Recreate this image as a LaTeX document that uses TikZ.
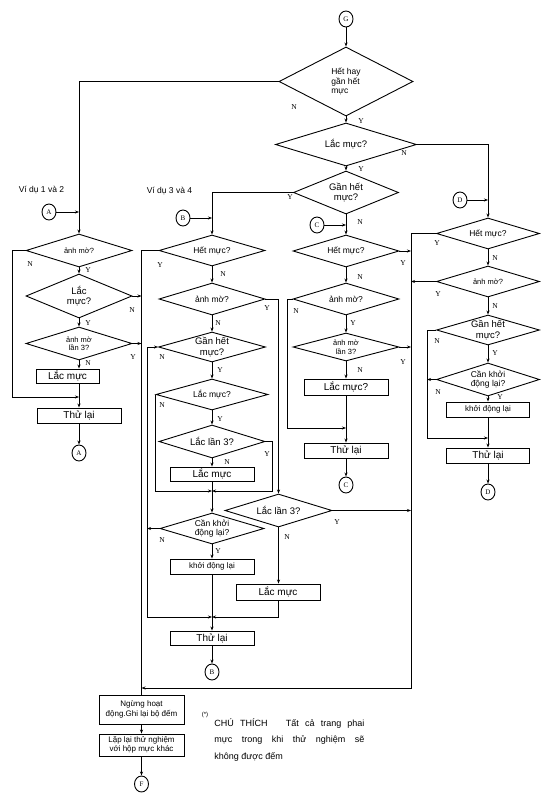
\documentclass[tikz,border=0pt]{standalone}
\usepackage{fontspec}
\setmainfont{Liberation Sans}
\newfontfamily\serifrm{Liberation Serif}
\usetikzlibrary{shapes.geometric,arrows.meta}

\tikzset{
  dec/.style={diamond, draw, inner sep=0pt, minimum width=106pt},
  act/.style={rectangle, draw, inner sep=0pt, minimum width=84pt, minimum height=15pt, font=\fontsize{10}{12}\selectfont},
  con/.style={ellipse, draw, inner sep=0pt, minimum width=14pt, minimum height=16pt, font=\serifrm\fontsize{7}{8}\selectfont},
  yn/.style={inner sep=0pt, font=\serifrm\fontsize{7.5}{8}\selectfont},
  xs/.style={align=center, font=\fontsize{7.5}{8.5}\selectfont},
  sm/.style={align=center, font=\fontsize{8.5}{9.5}\selectfont},
  lg/.style={align=center, font=\fontsize{9.5}{10.5}\selectfont},
  arr/.style={-{Stealth[length=4pt,width=3pt]}},
}

\begin{document}
\begin{tikzpicture}[x=1pt, y=-1pt, line width=0.9pt]
  \useasboundingbox (0,0) rectangle (554,797);

  \node[con] (G) at (346,19) {G};
  \node[dec, minimum width=134pt, minimum height=69pt, label={[sm, align=left]center:{Hết hay\\gần hết\\mực}}] (q1) at (346,81.5) {};
  \node[dec, minimum width=141pt, minimum height=43pt, label={[lg]center:Lắc mực?}] (q2) at (346,144.5) {};
  \node[dec, minimum width=105pt, minimum height=43pt, label={[lg]center:{Gần hết\\mực?}}] (q3) at (346,192.5) {};

  \node[anchor=west, font=\fontsize{8.5}{10}\selectfont] (ex1) at (15,190) {Ví dụ 1 và 2};
  \node[con] (A1) at (49,212) {A};
  \node[dec, minimum height=33pt, label={[xs]center:ảnh mờ?}] (a1) at (79,250.5) {};
  \node[dec, minimum height=44pt, label={[lg]center:{Lắc\\mực?}}] (a2) at (79,296) {};
  \node[dec, minimum height=33pt, label={[xs]center:{ảnh mờ\\lần 3?}}] (a3) at (79,343.5) {};
  \node[act, minimum width=63pt, minimum height=14pt] (a4) at (67.5,376) {Lắc mực};
  \node[act] (a5) at (79,415.5) {Thử lại};
  \node[con] (A2) at (79,453) {A};

  \node[anchor=west, font=\fontsize{8.5}{10}\selectfont] (ex2) at (143,191) {Ví dụ 3 và 4};
  \node[con] (B1) at (183,218) {B};
  \node[dec, minimum height=31pt, label={[sm]center:Hết mực?}] (b1) at (212,250.5) {};
  \node[dec, minimum height=32pt, label={[sm]center:ảnh mờ?}] (b2) at (212,299) {};
  \node[dec, minimum width=107pt, minimum height=30pt, label={[lg]center:{Gần hết\\mực?}}] (b3) at (212,347) {};
  \node[dec, minimum width=112pt, minimum height=31pt, label={[sm]center:Lắc mực?}] (b4) at (212,394.5) {};
  \node[dec, minimum height=33pt, label={[lg]center:Lắc lần 3?}] (b5) at (212,441.5) {};
  \node[act, minimum height=14pt] (b6) at (212,474) {Lắc mực};
  \coordinate (m1) at (212,491);
  \node[dec, minimum width=104pt, minimum height=31pt, label={[sm]center:{Cần khởi\\động lại?}}] (b7) at (212,528.5) {};
  \node[act, font=\fontsize{8}{9}\selectfont] (b8) at (212,566.5) {khởi động lại};
  \coordinate (m2) at (212,617);
  \node[act, minimum height=14pt] (b9) at (212,638) {Thử lại};
  \node[con] (B2) at (212,672) {B};

  \node[dec, minimum width=107pt, minimum height=33pt, label={[lg]center:Lắc lần 3?}] (e1) at (278.5,510.5) {};
  \node[act, minimum height=16pt] (e2) at (278,592) {Lắc mực};

  \node[con] (C1) at (317,225) {C};
  \node[dec, minimum height=32pt, label={[sm]center:Hết mực?}] (c1) at (346,251) {};
  \node[dec, minimum height=32pt, label={[sm]center:ảnh mờ?}] (c2) at (346,299) {};
  \node[dec, minimum height=28pt, label={[xs]center:{ảnh mờ\\lần 3?}}] (c3) at (346,347) {};
  \node[act, minimum height=16pt] (c4) at (346,387) {Lắc mực?};
  \coordinate (m3) at (346,428);
  \node[act] (c5) at (346,450.5) {Thử lại};
  \node[con] (C2) at (346,485) {C};

  \node[con] (D1) at (460,200) {D};
  \node[dec, minimum width=103pt, minimum height=31pt, label={[sm]center:Hết mực?}] (d1) at (488,233.5) {};
  \node[dec, minimum width=103pt, minimum height=31pt, label={[xs]center:ảnh mờ?}] (d2) at (488,281.5) {};
  \node[dec, minimum width=103pt, minimum height=30pt, label={[lg]center:{Gần hết\\mực?}}] (d3) at (488,330) {};
  \node[dec, minimum width=103pt, minimum height=33pt, label={[sm]center:{Cần khởi\\động lại?}}] (d4) at (488,379.5) {};
  \node[act, minimum width=83pt, font=\fontsize{8}{9}\selectfont] (d5) at (488,409.5) {khởi động lại};
  \coordinate (m4) at (488,438);
  \node[act, minimum width=83pt] (d6) at (488,455.5) {Thử lại};
  \node[con] (D2) at (488,492) {D};

  \node[act, minimum width=85pt, minimum height=29pt, align=center, font=\fontsize{8}{9.5}\selectfont] (f1) at (141.5,709.5) {Ngừng hoạt\\động.Ghi lại bộ đếm};
  \node[act, minimum width=85pt, minimum height=22pt, align=center, font=\fontsize{8}{9.5}\selectfont] (f2) at (141.5,745) {Lặp lại thử nghiệm\\với hộp mực khác};
  \node[con] (F) at (141.5,784) {F};

  \node[font=\fontsize{6}{7}\selectfont] (star) at (205,715) {(*)};
  \node[anchor=north west, align=left, inner sep=0pt, font=\fontsize{9}{16.5}\selectfont] (note) at (214,718) {\makebox[150pt][s]{CHÚ THÍCH \ \ Tất cả trang phai}\\\makebox[150pt][s]{mực trong khi thử nghiệm sẽ}\\không được đếm};

  \coordinate (sx) at (141.5,0);
  \coordinate (lx1) at (12,0);
  \coordinate (m0) at (79,397);
  \coordinate (lx2) at (147,0);
  \coordinate (rx3) at (272,0);
  \coordinate (lx4) at (287,0);
  \coordinate (rx) at (411,0);
  \coordinate (bot) at (411,688);
  \coordinate (lx5) at (427,0);

  \draw[arr] (G.south) -- (q1.north);
  \draw[arr] (q1.west) -| (a1.north);
  \draw[arr] (A1.east) -- (A1.east -| a1.north);
  \draw[arr] (q1.south) -- (q2.north);
  \draw[arr] (q2.east) -| (d1.north);
  \draw[arr] (D1.east) -- (D1.east -| d1.north);
  \draw[arr] (q2.south) -- (q3.north);
  \draw[arr] (q3.west) -| (b1.north);
  \draw[arr] (B1.east) -- (B1.east -| b1.north);
  \draw[arr] (q3.south) -- (c1.north);
  \draw[arr] (C1.east) -- (C1.east -| c1.north);

  \draw[arr] (a1.south) -- (a2.north);
  \draw[arr] (a2.south) -- (a3.north);
  \draw[arr] (a3.south) -- (a3.south |- a4.north);
  \draw[arr] (a4.south -| m0) -- (a5.north);
  \draw[arr] (a1.west) -- (a1.west -| lx1) |- (m0);
  \draw[arr] (a2.east) -- (a2.east -| sx);
  \draw[arr] (a3.east) -- (a3.east -| sx);
  \draw[arr] (a5.south) -- (A2.north);

  \draw (b1.west) -| (f1.north);
  \draw[arr] (b1.south) -- (b2.north);
  \draw[arr] (b2.east) -| (e1.north);
  \draw[arr] (b2.south) -- (b3.north);
  \draw[arr] (b3.west -| lx2) -- (b3.west);
  \draw[arr] (b3.west -| lx2) |- (m2);
  \draw[arr] (b7.west) -- (b7.west -| lx2);
  \draw[arr] (b3.south) -- (b4.north);
  \draw[arr] (b4.west) |- (m1);
  \draw[arr] (b4.south) -- (b5.north);
  \draw[arr] (b5.east) -- (b5.east -| rx3) |- (m1);
  \draw[arr] (b5.south) -- (b6.north);
  \draw (b6.south) -- (m1);
  \draw[arr] (m1) -- (b7.north);
  \draw[arr] (b7.south) -- (b8.north);
  \draw (b8.south) -- (m2);
  \draw[arr] (m2) -- (b9.north);
  \draw[arr] (b9.south) -- (B2.north);
  \draw[arr] (e1.south) -- (e1.south |- e2.north);
  \draw[arr] (e2.south) |- (m2);
  \draw[arr] (e1.east) -- (e1.east -| rx);

  \draw[arr] (c1.south) -- (c2.north);
  \draw[arr] (c1.east) -- (c1.east -| rx);
  \draw[arr] (c2.west) -- (c2.west -| lx4) |- (m3);
  \draw[arr] (c2.south) -- (c3.north);
  \draw[arr] (c3.east) -- (c3.east -| rx);
  \draw[arr] (c3.south) -- (c4.north);
  \draw (c4.south) -- (m3);
  \draw[arr] (m3) -- (c5.north);
  \draw[arr] (c5.south) -- (C2.north);

  \draw[arr] (d1.west) -| (bot) -- (bot -| f1.north);
  \draw[arr] (d1.south) -- (d2.north);
  \draw[arr] (d2.west) -- (d2.west -| rx);
  \draw[arr] (d2.south) -- (d3.north);
  \draw[arr] (d3.west) -- (d3.west -| lx5) |- (m4);
  \draw[arr] (d3.south) -- (d4.north);
  \draw[arr] (d4.west) -- (d4.west -| lx5);
  \draw[arr] (d4.south) -- (d5.north);
  \draw (d5.south) -- (m4);
  \draw[arr] (m4) -- (d6.north);
  \draw[arr] (d6.south) -- (D2.north);

  \draw[arr] (f1.south) -- (f2.north);
  \draw[arr] (f2.south) -- (F.north);

  \foreach \x/\y/\t [count=\i] in {294/107/N, 361/121/Y, 404/153/N, 361/169/Y, 290/197/Y, 360/222/N,
      30/264/N, 88/270/Y, 132/310/N, 88/323/Y, 133/357/Y, 88/363/N,
      160/265/Y, 223/274/N, 267/308/Y, 218/323/N, 162/357/N, 220/370/Y, 162/405/N, 220/419/Y,
      267/454/Y, 227/462/N, 162/540/N, 218/551/Y, 337/522/Y, 287/537/N,
      403/263/Y, 360/277/N, 296/311/N, 353/323/Y, 403/362/Y, 360/370/N,
      437/243/Y, 495/258/N, 438/294/Y, 495/306/N, 437/341/N, 495/353/Y, 438/392/N, 500/397/Y}
    \node[yn] (yn\i) at (\x,\y) {\t};
\end{tikzpicture}
\end{document}
